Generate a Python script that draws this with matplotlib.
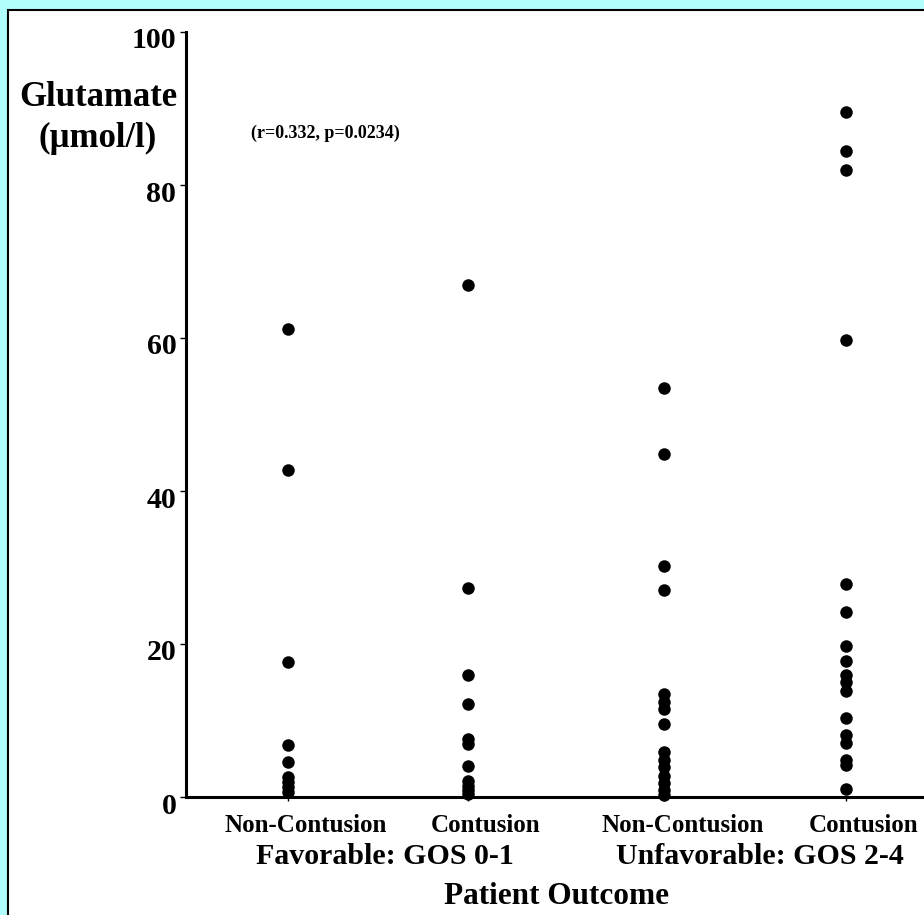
import matplotlib.pyplot as plt
from matplotlib.patches import Rectangle
import matplotlib.transforms as mtransforms

# DATA
categories = ["Non-Contusion", "Contusion", "Non-Contusion", "Contusion"]
groups = ["Favorable: GOS 0-1", "Unfavorable: GOS 2-4"]
fav_noncontusion = [61.2, 42.7, 17.7, 6.8, 4.6, 2.6, 1.9, 1.3, 0.7]
fav_contusion = [66.9, 27.3, 16.0, 12.2, 7.6, 6.9, 4.0, 2.1, 1.5, 0.9, 0.4]
unfav_noncontusion = [53.5, 44.8, 30.2, 27.1, 13.4, 12.4, 11.5, 9.6,
                      5.9, 4.9, 3.9, 2.8, 1.8, 0.9, 0.3]
unfav_contusion = [89.5, 84.4, 82.0, 59.7, 27.8, 24.2, 19.8, 17.8, 15.9,
                   15.0, 13.8, 10.3, 8.1, 7.0, 4.8, 4.2, 1.0]
yticks = [0, 20, 40, 60, 80, 100]
stats_text = "(r=0.332, p=0.0234)"

all_groups = [fav_noncontusion, fav_contusion, unfav_noncontusion, unfav_contusion]
x_pos = [1, 2, 3.09, 4.1]

W, H = 924, 915
fig = plt.figure(figsize=(W / 100, H / 100), dpi=100, facecolor="#B0FEFE")
plt.rcParams['font.family'] = ['Liberation Serif', 'DejaVu Serif']
plt.rcParams['font.weight'] = 'bold'

def fx(px):
    return px / W

def fy(py):
    return 1 - py / H

# white panel with black edge at left/top (runs off the right and bottom)
panel = Rectangle((fx(8), fy(930)), fx(940), (930 - 10) / H, transform=fig.transFigure,
                  facecolor="white", edgecolor="black", linewidth=1.5, zorder=-5)
fig.add_artist(panel)

ax = fig.add_axes([fx(186), fy(797), fx(924 - 186), (797 - 32) / H])
ax.set_zorder(2)
ax.set_facecolor("none")

for xp, vals in zip(x_pos, all_groups):
    ax.plot([xp] * len(vals), vals, 'o', color="black", markersize=9,
            markeredgewidth=0, clip_on=False)

ax.set_ylim(0, 100)
ax.set_xlim(0.433, 4.533)
ax.spines['top'].set_visible(False)
ax.spines['right'].set_visible(False)
ax.spines['left'].set_linewidth(2.2)
ax.spines['bottom'].set_linewidth(2.2)

ax.set_yticks(yticks)
ax.set_yticklabels([str(t) for t in yticks], fontsize=21.5, fontweight='bold')
ax.tick_params(axis='y', length=4, width=1, pad=3)
# labels sit a bit lower than the ticks in the original
offset = mtransforms.ScaledTranslation(0, -6 / 100, fig.dpi_scale_trans)
for lab in ax.get_yticklabels():
    lab.set_transform(lab.get_transform() + offset)

ax.set_xticks(x_pos)
ax.set_xticklabels([])
ax.tick_params(axis='x', length=3, width=1)

# category labels
for xp, cat in zip(x_pos, categories):
    ax.text(xp + 0.1, -3.7, cat, ha='center', va='center', fontsize=18,
            fontweight='bold', clip_on=False)

fig.text(fx(385), fy(856), groups[0], ha='center', va='center', fontsize=21.5, fontweight='bold')
fig.text(fx(760), fy(856), groups[1], ha='center', va='center', fontsize=21.5, fontweight='bold')
fig.text(fx(556), fy(896), "Patient Outcome", ha='center', va='center', fontsize=22.5, fontweight='bold')

fig.text(fx(98), fy(118), "Glutamate\n(\u00b5mol/l)", ha='center', va='center', fontsize=25,
         fontweight='bold', multialignment='center', linespacing=1.35)
fig.text(fx(325), fy(133), stats_text, ha='center', va='center', fontsize=13, fontweight='bold')

plt.savefig("out.png", dpi=100, facecolor=fig.get_facecolor())
